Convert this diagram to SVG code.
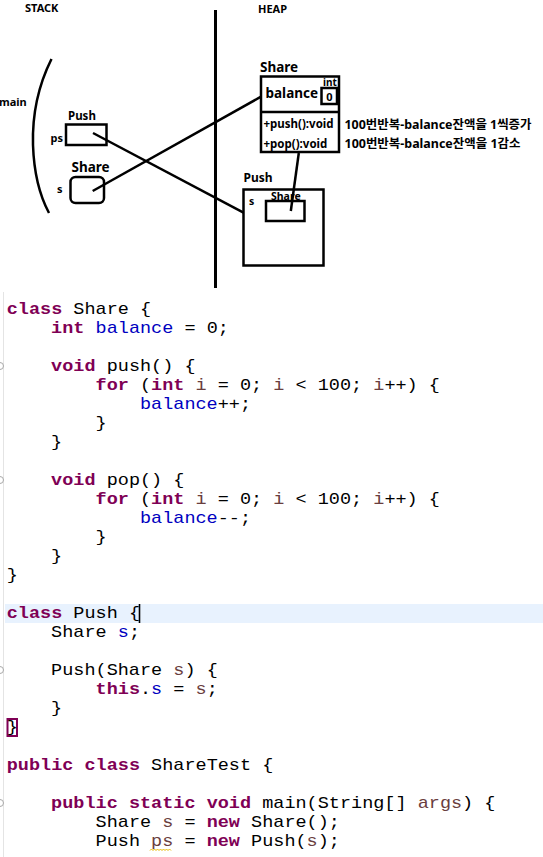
<svg xmlns="http://www.w3.org/2000/svg" width="543" height="857" viewBox="0 0 543 857">
<style>
.lbl{font-family:"Noto Sans","Noto Sans CJK KR",sans-serif;font-weight:bold;fill:#000}
.box{fill:none;stroke:#000;stroke-width:2.5}
.conn{fill:none;stroke:#000;stroke-width:2.5}
.code{font-family:"Liberation Mono","DejaVu Sans Mono",monospace;font-size:16px;fill:#000;white-space:pre}
.kw{fill:#7f0055;font-weight:bold}
.fld{fill:#0000c0}
.loc{fill:#6a3e3e}
.fold{fill:#fff;stroke:#a8a8a8;stroke-width:1}
</style>
<rect width="543" height="857" fill="#fff"/>

<!-- Memory diagram -->
<g id="stack-title"><text class="lbl" x="25" y="12" font-size="11">STACK</text></g>
<g id="heap-title"><text class="lbl" x="258" y="13" font-size="11">HEAP</text></g>
<g id="divider"><line x1="215.5" y1="10" x2="215.5" y2="288" stroke="#000" stroke-width="3"/></g>

<g id="main-frame">
<path d="M51.5,59 C40,82 32,110 33,145 C34,175 41,198 49,213" class="conn"/>
<text class="lbl" x="-1" y="106" font-size="11">main</text>
</g>

<g id="stack-ps">
<text class="lbl" x="68" y="120" font-size="11.5">Push</text>
<rect class="box" x="66" y="124.5" width="40.5" height="20.5"/>
<text class="lbl" x="50.5" y="142" font-size="11">ps</text>
</g>

<g id="stack-s">
<text class="lbl" x="71.5" y="172" font-size="13.5">Share</text>
<rect class="box" x="70.5" y="177" width="33.5" height="26" rx="5"/>
<text class="lbl" x="57" y="193" font-size="11">s</text>
</g>

<g id="heap-share">
<text class="lbl" x="260" y="71.5" font-size="13.5">Share</text>
<rect class="box" x="261" y="76.5" width="78" height="75.5"/>
<line x1="261" y1="112" x2="340" y2="112" stroke="#000" stroke-width="2.5"/>
<text class="lbl" x="265.5" y="97.5" font-size="13.5">balance</text>
<text class="lbl" x="323" y="86" font-size="10">int</text>
<rect class="box" x="321.5" y="88" width="15.5" height="16" style="fill:#fff"/>
<text class="lbl" x="329.3" y="100.5" font-size="11" text-anchor="middle">0</text>
<text class="lbl" x="263.5" y="128" font-size="11.5">+push():void</text>
<text class="lbl" x="263.5" y="147.5" font-size="11.5">+pop():void</text>
</g>

<g id="notes">
<text class="lbl" x="344.5" y="128.5" font-size="12.5" textLength="187" lengthAdjust="spacingAndGlyphs">100번반복-balance잔액을 1씩증가</text>
<text class="lbl" x="344.5" y="148" font-size="12.5" textLength="176" lengthAdjust="spacingAndGlyphs">100번반복-balance잔액을 1감소</text>
</g>

<g id="heap-push">
<text class="lbl" x="243.5" y="182" font-size="12">Push</text>
<rect class="box" x="243.5" y="189.5" width="80" height="76"/>
<text class="lbl" x="249" y="204.5" font-size="10.5">s</text>
<text class="lbl" x="271" y="199.5" font-size="10.5">Share</text>
<rect class="box" x="266" y="201" width="38.5" height="20"/>
</g>

<g id="connectors">
<line class="conn" x1="92.7" y1="191" x2="261" y2="96.7"/>
<line class="conn" x1="93" y1="133" x2="243.5" y2="212.7"/>
<line class="conn" x1="298.8" y1="153" x2="290.8" y2="211"/>
</g>

<!-- Code listing -->
<g id="code-editor">
<line x1="3.5" y1="292" x2="3.5" y2="857" stroke="#e4e4e4" stroke-width="1"/>
<rect x="5" y="604" width="538" height="19" fill="#e8f2fe"/>
<line x1="139.5" y1="604" x2="139.5" y2="623" stroke="#000" stroke-width="1.6"/>
<rect x="7.5" y="719" width="9.5" height="17" fill="none" stroke="#7f0055" stroke-width="2"/>
<g>
<circle class="fold" cx="0" cy="366" r="3.5"/>
<circle class="fold" cx="0" cy="480" r="3.5"/>
<circle class="fold" cx="0" cy="670" r="3.5"/>
<circle class="fold" cx="0" cy="803" r="3.5"/>
</g>
<path d="M150,850.5 l1.5,-1.5 l1.5,1.5 l1.5,-1.5 l1.5,1.5 l1.5,-1.5 l1.5,1.5 l1.5,-1.5 l1.5,1.5 l1.5,-1.5 l1.5,1.5 l1.5,-1.5 l1.5,1.5 l1.5,-1.5 l1.5,1.5" fill="none" stroke="#e8b800" stroke-width="1"/>
<g transform="matrix(1.157,0,0,1,0,0)" class="code">
<text x="5.8" y="314"><tspan class="kw">class</tspan> Share {</text>
<text x="44.2" y="333"><tspan class="kw">int</tspan> <tspan class="fld">balance</tspan> = 0;</text>
<text x="44.2" y="371"><tspan class="kw">void</tspan> push() {</text>
<text x="82.6" y="390"><tspan class="kw">for</tspan> (<tspan class="kw">int</tspan> <tspan class="loc">i</tspan> = 0; <tspan class="loc">i</tspan> &lt; 100; <tspan class="loc">i</tspan>++) {</text>
<text x="121" y="409"><tspan class="fld">balance</tspan>++;</text>
<text x="82.6" y="428">}</text>
<text x="44.2" y="447">}</text>
<text x="44.2" y="485"><tspan class="kw">void</tspan> pop() {</text>
<text x="82.6" y="504"><tspan class="kw">for</tspan> (<tspan class="kw">int</tspan> <tspan class="loc">i</tspan> = 0; <tspan class="loc">i</tspan> &lt; 100; <tspan class="loc">i</tspan>++) {</text>
<text x="121" y="523"><tspan class="fld">balance</tspan>--;</text>
<text x="82.6" y="542">}</text>
<text x="44.2" y="561">}</text>
<text x="5.8" y="580">}</text>
<text x="5.8" y="618"><tspan class="kw">class</tspan> Push {</text>
<text x="44.2" y="637">Share <tspan class="fld">s</tspan>;</text>
<text x="44.2" y="675">Push(Share <tspan class="loc">s</tspan>) {</text>
<text x="82.6" y="694"><tspan class="kw">this</tspan>.<tspan class="fld">s</tspan> = <tspan class="loc">s</tspan>;</text>
<text x="44.2" y="713">}</text>
<text x="5.8" y="732">}</text>
<text x="5.8" y="770"><tspan class="kw">public</tspan> <tspan class="kw">class</tspan> ShareTest {</text>
<text x="44.2" y="808"><tspan class="kw">public</tspan> <tspan class="kw">static</tspan> <tspan class="kw">void</tspan> main(String[] <tspan class="loc">args</tspan>) {</text>
<text x="82.6" y="827">Share <tspan class="loc">s</tspan> = <tspan class="kw">new</tspan> Share();</text>
<text x="82.6" y="846">Push <tspan class="loc">ps</tspan> = <tspan class="kw">new</tspan> Push(<tspan class="loc">s</tspan>);</text>
</g>
</g>
</svg>
